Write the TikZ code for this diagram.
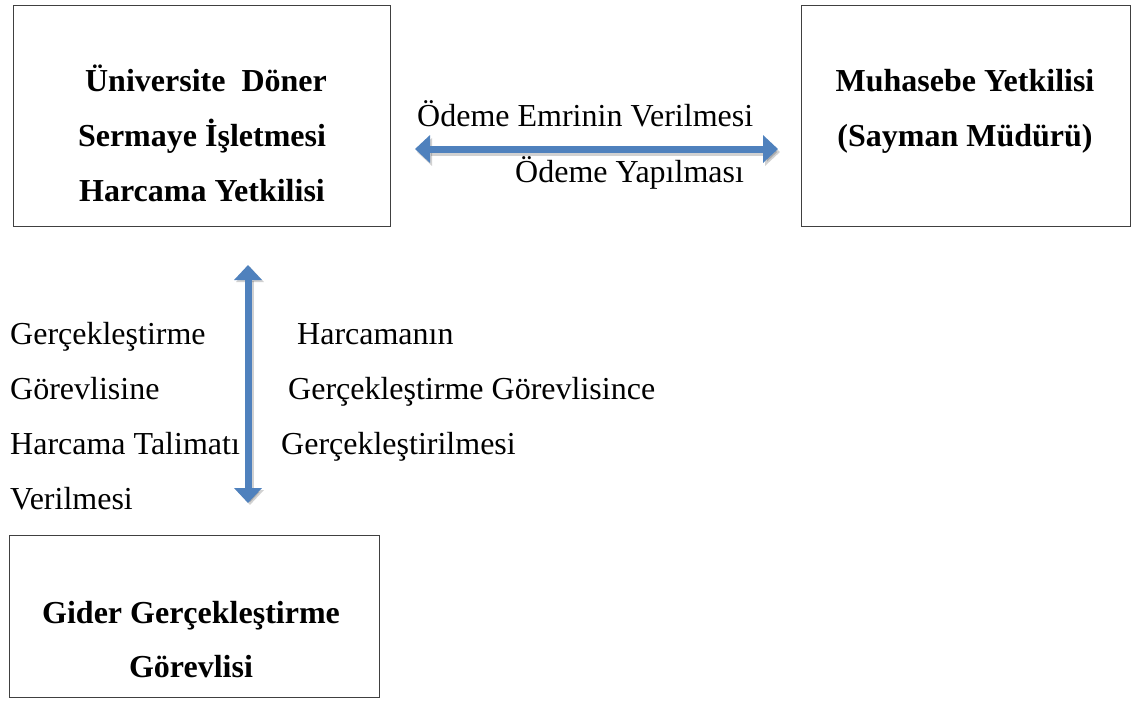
\documentclass[tikz,border=0pt]{standalone}
\usepackage{fontspec}
\setmainfont{Liberation Serif}
\usetikzlibrary{arrows.meta}
\definecolor{arrowblue}{HTML}{4F81BD}
\definecolor{boxline}{HTML}{404040}
\begin{document}
\begin{tikzpicture}[x=1pt,y=-1pt,
  box/.style={draw=boxline, line width=1.3pt, inner sep=0pt, anchor=north west},
  lbl/.style={font=\fontsize{32}{40}\selectfont, inner sep=0pt, anchor=base west},
  blbl/.style={font=\bfseries\fontsize{32}{40}\selectfont, inner sep=0pt, anchor=base},
  barrow/.style={draw=arrowblue, line width=7pt,
    {Triangle[width=27pt,length=15pt]}-{Triangle[width=27pt,length=15pt]}},
  sharrow/.style={draw=black, opacity=0.18, line width=7pt,
    {Triangle[width=27pt,length=15pt]}-{Triangle[width=27pt,length=15pt]}}]
\useasboundingbox (0,0) rectangle (1137,704);
% boxes
\node[box, minimum width=377pt, minimum height=221pt] (b1) at (13,5) {};
\node[box, minimum width=329pt, minimum height=221pt] (b2) at (801,5) {};
\node[box, minimum width=370pt, minimum height=162pt] (b3) at (9,535) {};
% box texts
\node[blbl] (t11) at (206,91) {Üniversite\ \ Döner};
\node[blbl] (t12) at (202,146) {Sermaye İşletmesi};
\node[blbl] (t13) at (202,201) {Harcama Yetkilisi};
\node[blbl] (t21) at (965,91) {Muhasebe Yetkilisi};
\node[blbl] (t22) at (965,146) {(Sayman Müdürü)};
\node[blbl] (t31) at (191,623) {Gider Gerçekleştirme};
\node[blbl] (t32) at (191,677) {Görevlisi};
% horizontal arrow
\coordinate (hl) at (415,149);
\coordinate (hr) at (778,149);
\coordinate (hls) at (417,152);
\coordinate (hrs) at (780,152);
\path[sharrow] (hls) -- (hrs);
\path[barrow] (hl) -- (hr);
\node[lbl] (h1) at (417,126) {Ödeme Emrinin Verilmesi};
\node[lbl] (h2) at (515,182) {Ödeme Yapılması};
% vertical arrow
\coordinate (vt) at (248,265);
\coordinate (vb) at (248,503);
\coordinate (vts) at (250,267);
\coordinate (vbs) at (250,505);
\path[sharrow] (vts) -- (vbs);
\path[barrow] (vt) -- (vb);
% left texts
\node[lbl] (l1) at (10,344) {Gerçekleştirme};
\node[lbl] (l2) at (10,399) {Görevlisine};
\node[lbl] (l3) at (10,454) {Harcama Talimatı};
\node[lbl] (l4) at (10,509) {Verilmesi};
% right texts
\node[lbl] (r1) at (297,344) {Harcamanın};
\node[lbl] (r2) at (288,399) {Gerçekleştirme Görevlisince};
\node[lbl] (r3) at (281,454) {Gerçekleştirilmesi};
\end{tikzpicture}
\end{document}
